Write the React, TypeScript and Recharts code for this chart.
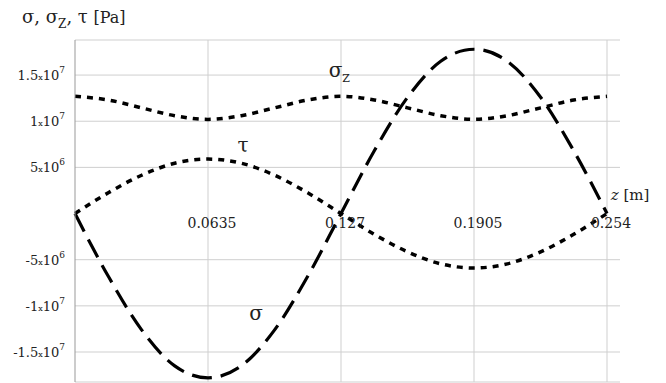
import React from 'react';
import { LineChart, Line, XAxis, YAxis, CartesianGrid, ReferenceDot } from 'recharts';

const zValues = [0, 0.0159, 0.0318, 0.0476, 0.0635, 0.0794, 0.0953, 0.1111, 0.127, 0.1429, 0.1588, 0.1746, 0.1905, 0.2064, 0.2223, 0.2381, 0.254];
const sigmaValues = [0, -6.8e6, -1.26e7, -1.65e7, -1.78e7, -1.65e7, -1.26e7, -6.8e6, 0, 6.8e6, 1.26e7, 1.65e7, 1.78e7, 1.65e7, 1.26e7, 6.8e6, 0];
const tauValues = [0, 2.25e6, 4.15e6, 5.45e6, 5.9e6, 5.45e6, 4.15e6, 2.25e6, 0, -2.25e6, -4.15e6, -5.45e6, -5.9e6, -5.45e6, -4.15e6, -2.25e6, 0];
const sigmaZValues = [1.27e7, 1.23e7, 1.145e7, 1.06e7, 1.02e7, 1.06e7, 1.145e7, 1.23e7, 1.27e7, 1.23e7, 1.145e7, 1.06e7, 1.02e7, 1.06e7, 1.145e7, 1.23e7, 1.27e7];

const xTicks = [0.0635, 0.127, 0.1905, 0.254];
const xTickLabels = ['0.0635', '0.127', '0.1905', '0.254'];
const yTicks = [-1.5e7, -1e7, -5e6, 5e6, 1e7, 1.5e7];
const yTickMantissas = ['-1.5', '-1', '-5', '5', '1', '1.5'];
const yTickExponents = ['7', '7', '6', '6', '7', '7'];

const data = zValues.map((z, i) => ({
  z,
  sigma: sigmaValues[i],
  tau: tauValues[i],
  sigmaZ: sigmaZValues[i],
}));

const FONT = "'DejaVu Serif', serif";

const YTick = (props: any) => {
  const { x, y, payload } = props;
  const i = yTicks.indexOf(payload.value);
  if (i < 0) return null;
  return (
    <text x={x - 2} y={y + 5} textAnchor="end" fill="#222" style={{ fontFamily: FONT, fontSize: 13 }}>
      <tspan>{yTickMantissas[i]}</tspan>
      <tspan style={{ fontSize: 8 }}>x</tspan>
      <tspan>10</tspan>
      <tspan dy={-7} style={{ fontSize: 9 }}>{yTickExponents[i]}</tspan>
    </text>
  );
};

const textLabel = (value: string, sub?: string, size = 18) => (props: any) => {
  const vb = props.viewBox || {};
  const cx = vb.x + (vb.width || 0) / 2;
  const cy = vb.y + (vb.height || 0) / 2;
  return (
    <text x={cx} y={cy + 5} textAnchor="middle" fill="#222" style={{ fontFamily: FONT, fontSize: size }}>
      <tspan>{value}</tspan>
      {sub ? <tspan dy={5} style={{ fontSize: 11 }}>{sub}</tspan> : null}
    </text>
  );
};

const tickLabel = (value: string) => (props: any) => {
  const vb = props.viewBox || {};
  const cx = vb.x + (vb.width || 0) / 2;
  const cy = vb.y + (vb.height || 0) / 2;
  return (
    <text x={cx + 4} y={cy + 14} textAnchor="middle" fill="#222" style={{ fontFamily: FONT, fontSize: 14 }}>
      {value}
    </text>
  );
};

export default function App() {
  return (
    <div style={{ position: 'fixed', left: 0, top: 0, width: 666, height: 383, background: '#fff', fontFamily: FONT }}>
      <div
        style={{
          position: 'absolute',
          left: 22,
          top: 6,
          fontFamily: FONT,
          fontSize: 18,
          color: '#222',
          whiteSpace: 'nowrap',
          lineHeight: '22px',
        }}
      >
        σ, σ<sub style={{ fontSize: 12, lineHeight: 0 }}>Z</sub>, τ <span style={{ fontSize: 16 }}>[Pa]</span>
      </div>
      <LineChart
        width={666}
        height={383}
        data={data}
        margin={{ top: 40, right: 46, bottom: 1, left: 0 }}
        style={{ position: 'absolute', left: 0, top: 0 }}
      >
        <CartesianGrid stroke="#cfcfcf" strokeWidth={1} verticalValues={xTicks} />
        <XAxis dataKey="z" type="number" domain={[0, 0.2602]} hide />
        <YAxis
          type="number"
          domain={[-1.825e7, 1.88e7]}
          ticks={yTicks}
          width={75}
          axisLine={{ stroke: '#999' }}
          tickLine={false}
          tick={<YTick />}
          interval={0}
        />
        {xTicks.map((t, i) => (
          <ReferenceDot key={t} x={t} y={0} r={0} stroke="none" fill="none" label={tickLabel(xTickLabels[i])} />
        ))}
        <Line type="monotone" dataKey="sigmaZ" stroke="#000" strokeWidth={3.5} strokeDasharray="6 6" dot={false} isAnimationActive={false} />
        <Line type="monotone" dataKey="tau" stroke="#000" strokeWidth={3.5} strokeDasharray="6 6" dot={false} isAnimationActive={false} />
        <Line type="monotone" dataKey="sigma" stroke="#000" strokeWidth={3.2} strokeDasharray="20 9" dot={false} isAnimationActive={false} />
        <ReferenceDot x={0.1262} y={1.53e7} r={0} stroke="none" fill="none" label={textLabel('σ', 'Z', 20)} />
        <ReferenceDot x={0.0802} y={7.2e6} r={0} stroke="none" fill="none" label={textLabel('τ', undefined, 20)} />
        <ReferenceDot x={0.0864} y={-1.1e7} r={0} stroke="none" fill="none" label={textLabel('σ', undefined, 20)} />
        <ReferenceDot
          x={0.265}
          y={2.0e6}
          r={0}
          stroke="none"
          fill="none"
          ifOverflow="visible"
          label={(props: any) => {
            const vb = props.viewBox || {};
            const cx = vb.x + (vb.width || 0) / 2;
            const cy = vb.y + (vb.height || 0) / 2;
            return (
              <text x={cx} y={cy + 5} textAnchor="middle" fill="#222" style={{ fontFamily: FONT, fontSize: 15 }}>
                <tspan fontStyle="italic">z</tspan>
                <tspan> [m]</tspan>
              </text>
            );
          }}
        />
      </LineChart>
    </div>
  );
}
